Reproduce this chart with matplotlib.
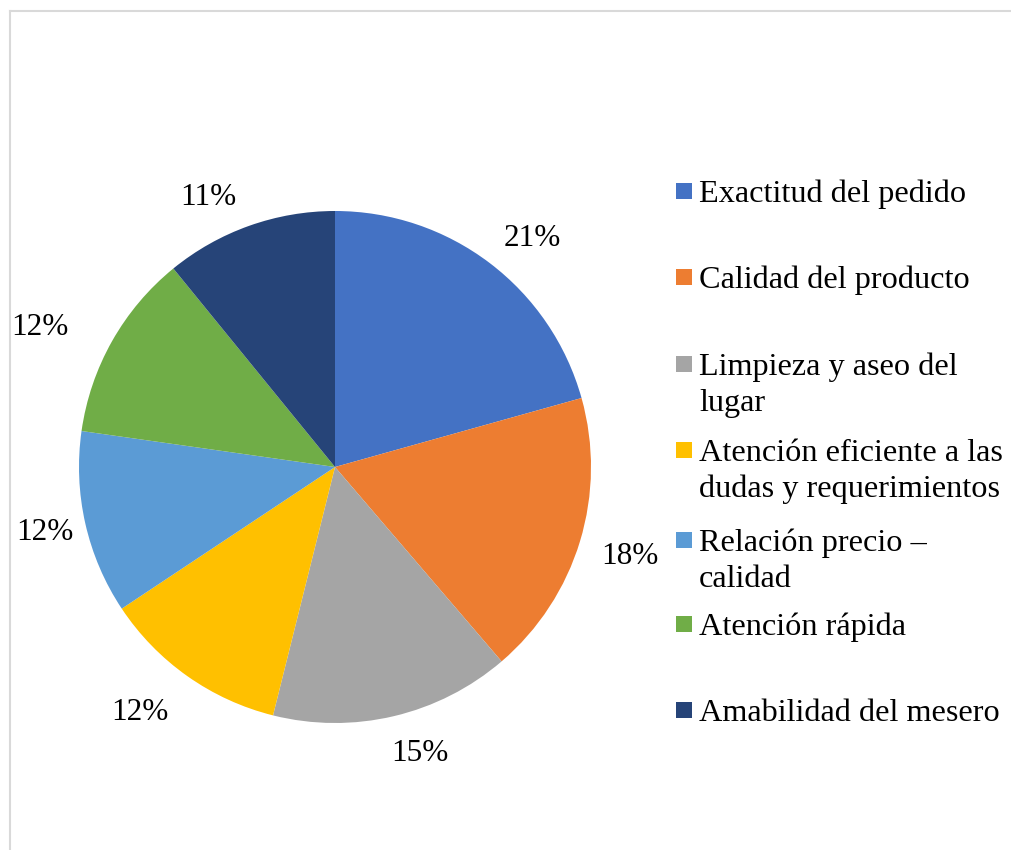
import numpy as np
import matplotlib.pyplot as plt
from matplotlib.patches import Rectangle
from matplotlib.lines import Line2D

plt.rcParams['font.family'] = ['Liberation Serif', 'DejaVu Serif']

# datos (porcentajes)
categorias = ["Exactitud del pedido", "Calidad del producto",
              "Limpieza y aseo del\nlugar",
              "Atención eficiente a las\ndudas y requerimientos",
              "Relación precio –\ncalidad", "Atención rápida",
              "Amabilidad del mesero"]
valores = [20.7, 18.1, 15.2, 11.8, 11.6, 11.9, 10.9]
colores = ["#4472C4", "#ED7D31", "#A5A5A5", "#FFC000", "#5B9BD5", "#70AD47", "#264478"]

# ajuste de las etiquetas (Excel "mejor ajuste"): distancia y giro en grados
dist_etq = [1.19, 1.20, 1.155, 1.215, 1.16, 1.28, 1.175]
giro_etq = [3.3, -0.7, -3.5, 3.6, 0.7, -3.6, -5.3]

W, H = 1011, 850
fig = plt.figure(figsize=(W / 100, H / 100), dpi=100)

# borde del area del grafico (solo se ven arriba e izquierda)
fig.add_artist(Line2D([10 / W, 1.01], [1 - 11 / H, 1 - 11 / H], color="#D9D9D9", lw=1.5))
fig.add_artist(Line2D([10 / W, 10 / W], [1 - 11 / H, -0.01], color="#D9D9D9", lw=1.5))

ax = fig.add_axes([79 / W, 1 - 723 / H, 512 / W, 512 / H])
wedges, textos, pcts = ax.pie(valores, colors=colores, startangle=90, counterclock=False,
                              autopct=lambda p: "%d%%" % round(p), pctdistance=1.19,
                              radius=1, wedgeprops=dict(linewidth=0))
for w, t, d, g in zip(wedges, pcts, dist_etq, giro_etq):
    ang = np.deg2rad((w.theta1 + w.theta2) / 2 - g)
    t.set_position((d * np.cos(ang), d * np.sin(ang)))
    t.set_fontsize(22.5)
    t.set_verticalalignment("center_baseline")
    t.set_color("#000000")
ax.set_xlim(-1, 1)
ax.set_ylim(-1, 1)
ax.set_aspect("equal")
ax.axis("off")

# leyenda manual (espaciado irregular como en Excel)
ys = [191, 277, 364, 450, 540, 624, 710]
for lab, col, y in zip(categorias, colores, ys):
    fig.add_artist(Rectangle((676 / W, 1 - (y + 8) / H), 16 / W, 16 / H,
                             facecolor=col, edgecolor="none", transform=fig.transFigure))
    for i, linea in enumerate(lab.split("\n")):
        fig.text(699 / W, 1 - (y + 36 * i) / H, linea, fontsize=23.2,
                 ha="left", va="center_baseline", color="#000000")

fig.savefig("out.png", dpi=100)
